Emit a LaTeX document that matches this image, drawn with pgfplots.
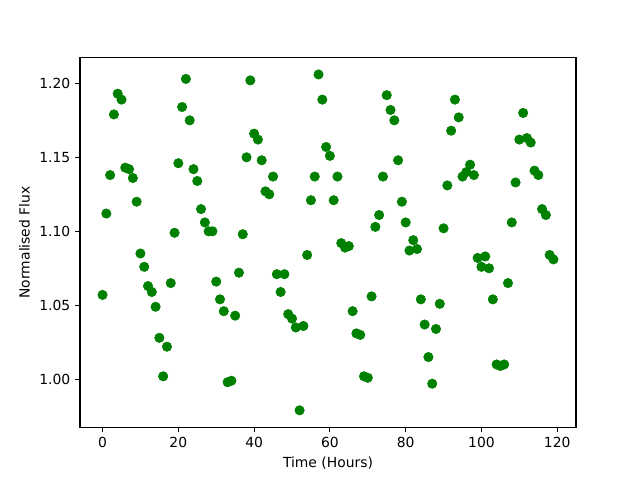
\documentclass[border=0pt]{standalone}
\usepackage{pgfplots}
\pgfplotsset{compat=1.18}
\usepackage{fontspec}
\setmainfont{DejaVu Sans}
\definecolor{mplgreen}{HTML}{008000}
\pgfplotstableread{
x y
0 1.057
1 1.112
2 1.138
3 1.179
4 1.193
5 1.189
6 1.143
7 1.142
8 1.136
9 1.120
10 1.085
11 1.076
12 1.063
13 1.059
14 1.049
15 1.028
16 1.002
17 1.022
18 1.065
19 1.099
20 1.146
21 1.184
22 1.203
23 1.175
24 1.142
25 1.134
26 1.115
27 1.106
28 1.100
29 1.100
30 1.066
31 1.054
32 1.046
33 0.998
34 0.999
35 1.043
36 1.072
37 1.098
38 1.150
39 1.202
40 1.166
41 1.162
42 1.148
43 1.127
44 1.125
45 1.137
46 1.071
47 1.059
48 1.071
49 1.044
50 1.041
51 1.035
52 0.979
53 1.036
54 1.084
55 1.121
56 1.137
57 1.206
58 1.189
59 1.157
60 1.151
61 1.121
62 1.137
63 1.092
64 1.089
65 1.090
66 1.046
67 1.031
68 1.030
69 1.002
70 1.001
71 1.056
72 1.103
73 1.111
74 1.137
75 1.192
76 1.182
77 1.175
78 1.148
79 1.120
80 1.106
81 1.087
82 1.094
83 1.088
84 1.054
85 1.037
86 1.015
87 0.997
88 1.034
89 1.051
90 1.102
91 1.131
92 1.168
93 1.189
94 1.177
95 1.137
96 1.140
97 1.145
98 1.138
99 1.082
100 1.076
101 1.083
102 1.075
103 1.054
104 1.010
105 1.009
106 1.010
107 1.065
108 1.106
109 1.133
110 1.162
111 1.180
112 1.163
113 1.160
114 1.141
115 1.138
116 1.115
117 1.111
118 1.084
119 1.081
}\fluxdata
\begin{document}
\begin{tikzpicture}
\path[use as bounding box] (-57.6pt,-38.016pt) rectangle (403.2pt,307.584pt);
\begin{axis}[
  scale only axis,
  width=357.12pt, height=266.112pt,
  at={(0,0)}, anchor=south west,
  xmin=-5.95, xmax=124.95,
  ymin=0.9676, ymax=1.2174,
  xtick={0,20,40,60,80,100,120},
  ytick={1.00,1.05,1.10,1.15,1.20},
  yticklabel style={/pgf/number format/fixed,/pgf/number format/fixed zerofill,/pgf/number format/precision=2},
  /pgf/number format/assume math mode=true,
  tick align=outside,
  tick pos=left,
  major tick length=3.5pt,
  axis line style={line width=0.8pt},
  every tick/.style={black,line width=0.8pt},
  xlabel={Time (Hours)},
  ylabel={Normalised Flux},
  ticklabel style={font=\fontsize{10}{12}\selectfont},
  label style={font=\fontsize{10}{12}\selectfont},
  scaled y ticks=false,
]
\addplot[only marks, mark=*, mark size=3.4pt, mplgreen, mark options={fill=mplgreen, draw=mplgreen}] table[x=x,y=y] {\fluxdata};
\end{axis}
\end{tikzpicture}
\end{document}
